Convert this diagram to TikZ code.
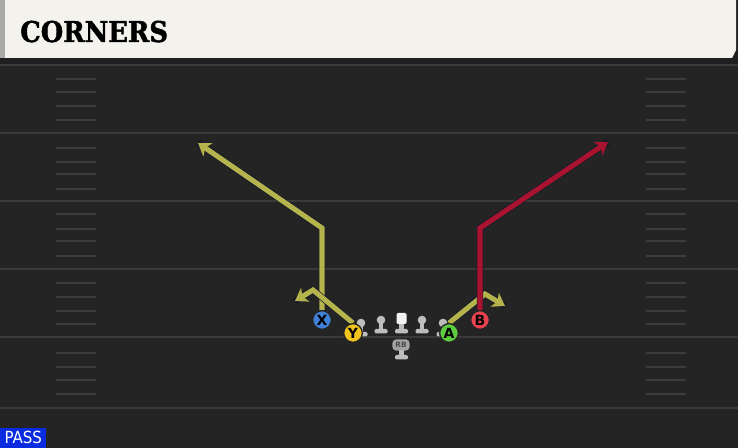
\documentclass[tikz,border=0pt]{standalone}
\usepackage{fontspec}
\setmainfont{DejaVu Serif}
\setsansfont{DejaVu Sans}
\newfontfamily\titlefont{DejaVu Serif Condensed Bold}[FakeBold=1.4]
\newfontfamily\tagfont{DejaVu Sans Condensed}
\usetikzlibrary{arrows.meta}
\definecolor{turf}{HTML}{242424}
\definecolor{yardline}{HTML}{3A3A3A}
\definecolor{hashline}{HTML}{3C3C3C}
\definecolor{cream}{HTML}{F4F2EC}
\definecolor{edgegray}{HTML}{A9ABA8}
\definecolor{routegold}{HTML}{B5B34C}
\definecolor{routered}{HTML}{A8142F}
\definecolor{routeedge}{HTML}{15182A}
\definecolor{xblue}{HTML}{3F7FD6}
\definecolor{yyellow}{HTML}{F2C31C}
\definecolor{agreen}{HTML}{5CCB3C}
\definecolor{bred}{HTML}{E6434E}
\definecolor{linegray}{HTML}{BDBDBD}
\definecolor{passblue}{HTML}{0B2BE0}
\pgfdeclarelayer{turflayer}
\pgfdeclarelayer{routelayer}
\pgfsetlayers{turflayer,routelayer,main}

\begin{document}
\begin{tikzpicture}[x=0.75pt,y=-0.75pt,
    yard/.style={draw=yardline,line width=1.5pt},
    hash/.style={draw=hashline,line width=1.2pt},
    route/.style={line width=3.8pt,line join=miter,
      -{Stealth[length=9pt,width=12pt,inset=2.5pt]},
      preaction={draw=routeedge,line width=4.8pt,-}},
    player/.style={circle,draw=black!85,line width=1pt,minimum size=14pt,
      inner sep=0pt,font=\sffamily\bfseries\fontsize{10.5}{10.5}\selectfont},
    blocker/.pic={
      \fill[linegray] (0,-6) circle (4.3);
      \fill[linegray] (-2.4,-5) rectangle (2.4,4);
      \fill[linegray,rounded corners=1] (-6.5,3) rectangle (6.5,7.5);
    }]
  \useasboundingbox (0,0) rectangle (738,448);

  % field
  \begin{pgfonlayer}{turflayer}
    \fill[turf] (0,0) rectangle (738,448);
    \foreach \y in {65,133,201,269,337,408}
      \draw[yard] (0,\y) -- (738,\y);
    \foreach \y in {79,92,106,120,148,162,174,189,214,229,241,256,
                    283,297,311,324,353,367,380,394}{
      \draw[hash] (56,\y) -- (96,\y);
      \draw[hash] (646,\y) -- (686,\y);
    }
    % header
    \fill[black!88] (0,58) rectangle (738,64);
    \fill[black!88] (735,0) rectangle (738,64);
    \fill[edgegray] (0,0) rectangle (5,58);
    \fill[cream] (5,0) -- (736,0) -- (736,50) -- (732,58) -- (5,58) -- cycle;
  \end{pgfonlayer}

  \node[anchor=base west,inner sep=0pt,
    font=\titlefont\fontsize{21.5}{21.5}\selectfont] (title) at (20,42) {CORNERS};

  % line
  \pic (lt) at (361,329) {blocker};
  \pic (lg) at (381,326) {blocker};
  \pic (rg) at (422,326) {blocker};
  \pic (rt) at (443,329) {blocker};
  \fill[linegray] (399,322) rectangle (404,330);
  \fill[linegray,rounded corners=1] (395,329) rectangle (408,333.5);
  \fill[white!95!black,rounded corners=1] (396.5,313) rectangle (406.5,324);
  \node[fill=gray!72,rounded corners=3pt,inner sep=0pt,minimum width=13pt,
    minimum height=8.5pt,font=\sffamily\bfseries\fontsize{5.5}{5.5}\selectfont,
    text=black!70] (rb) at (401,345) {RB};
  \fill[linegray] (399,350) rectangle (404,357);
  \fill[linegray,rounded corners=1] (395,355) rectangle (408,359.5);

  % skill players
  \node[player,fill=xblue] (X) at (322,320) {X};
  \node[player,fill=yyellow] (Y) at (353,333) {Y};
  \node[player,fill=agreen] (A) at (449,333) {A};
  \node[player,fill=bred] (B) at (480,320) {B};

  \coordinate (xbreak) at (322,228);
  \coordinate (xend) at (198,143);
  \coordinate (ybreak) at (313,290);
  \coordinate (yend) at (295,301);
  \coordinate (abreak) at (485,294);
  \coordinate (aend) at (505,306);
  \coordinate (bbreak) at (480,228);
  \coordinate (bend) at (608,142);

  \begin{pgfonlayer}{routelayer}
    \draw[route,routegold] (X) -- (xbreak) -- (xend);
    \draw[route,routegold] (Y.north) -- (ybreak) -- (yend);
    \draw[route,routegold] (A.north) -- (abreak) -- (aend);
    \draw[route,routered] (B) -- (bbreak) -- (bend);
  \end{pgfonlayer}

  \node[fill=passblue,text=white,anchor=south west,inner sep=0pt,
    minimum width=34.5pt,minimum height=15pt,
    font=\tagfont\fontsize{12.5}{12.5}\selectfont] (play) at (0,448) {PASS};
\end{tikzpicture}
\end{document}
